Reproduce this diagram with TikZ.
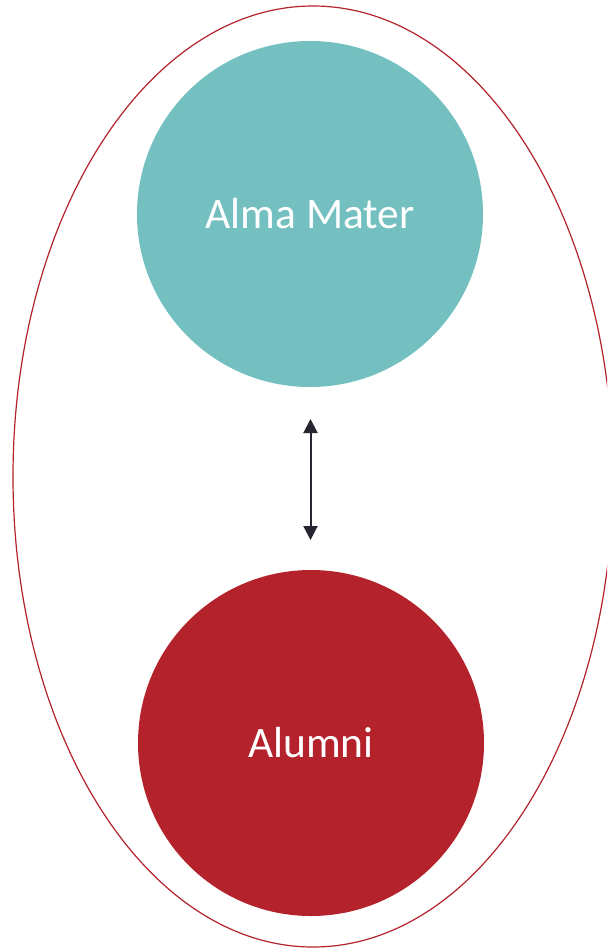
\documentclass[tikz,border=0pt]{standalone}
\usepackage{fontspec}
\setmainfont{Carlito}
\usetikzlibrary{arrows.meta,shapes.geometric}
\definecolor{tealc}{RGB}{116,191,191}
\definecolor{redc}{RGB}{180,35,44}
\definecolor{darkc}{RGB}{38,38,48}
\begin{document}
\begin{tikzpicture}[x=1pt,y=-1pt,
  bubble/.style={circle,minimum size=346pt,inner sep=0pt,text=white,font=\fontsize{43.5}{50}\selectfont},
  link/.style={draw=darkc,line width=2pt,{Triangle[length=14pt,width=14pt]}-{Triangle[length=14pt,width=14pt]}}]
\useasboundingbox (0,0) rectangle (607,949);
\clip (0,0) rectangle (607,949);
\fill[white] (0,0) rectangle (607,949);
\node[draw=redc,line width=1.2pt,ellipse,minimum width=600pt,minimum height=941pt,inner sep=0pt] (outer) at (313,476.5) {};
\node[bubble,fill=tealc] (alma) at (310,214) {Alma Mater};
\node[bubble,fill=redc] (alumni) at (311,743) {Alumni};
\coordinate (a1) at (310.5,419);
\coordinate (a2) at (310.5,540);
\draw[link] (a1) -- (a2);
\end{tikzpicture}
\end{document}
